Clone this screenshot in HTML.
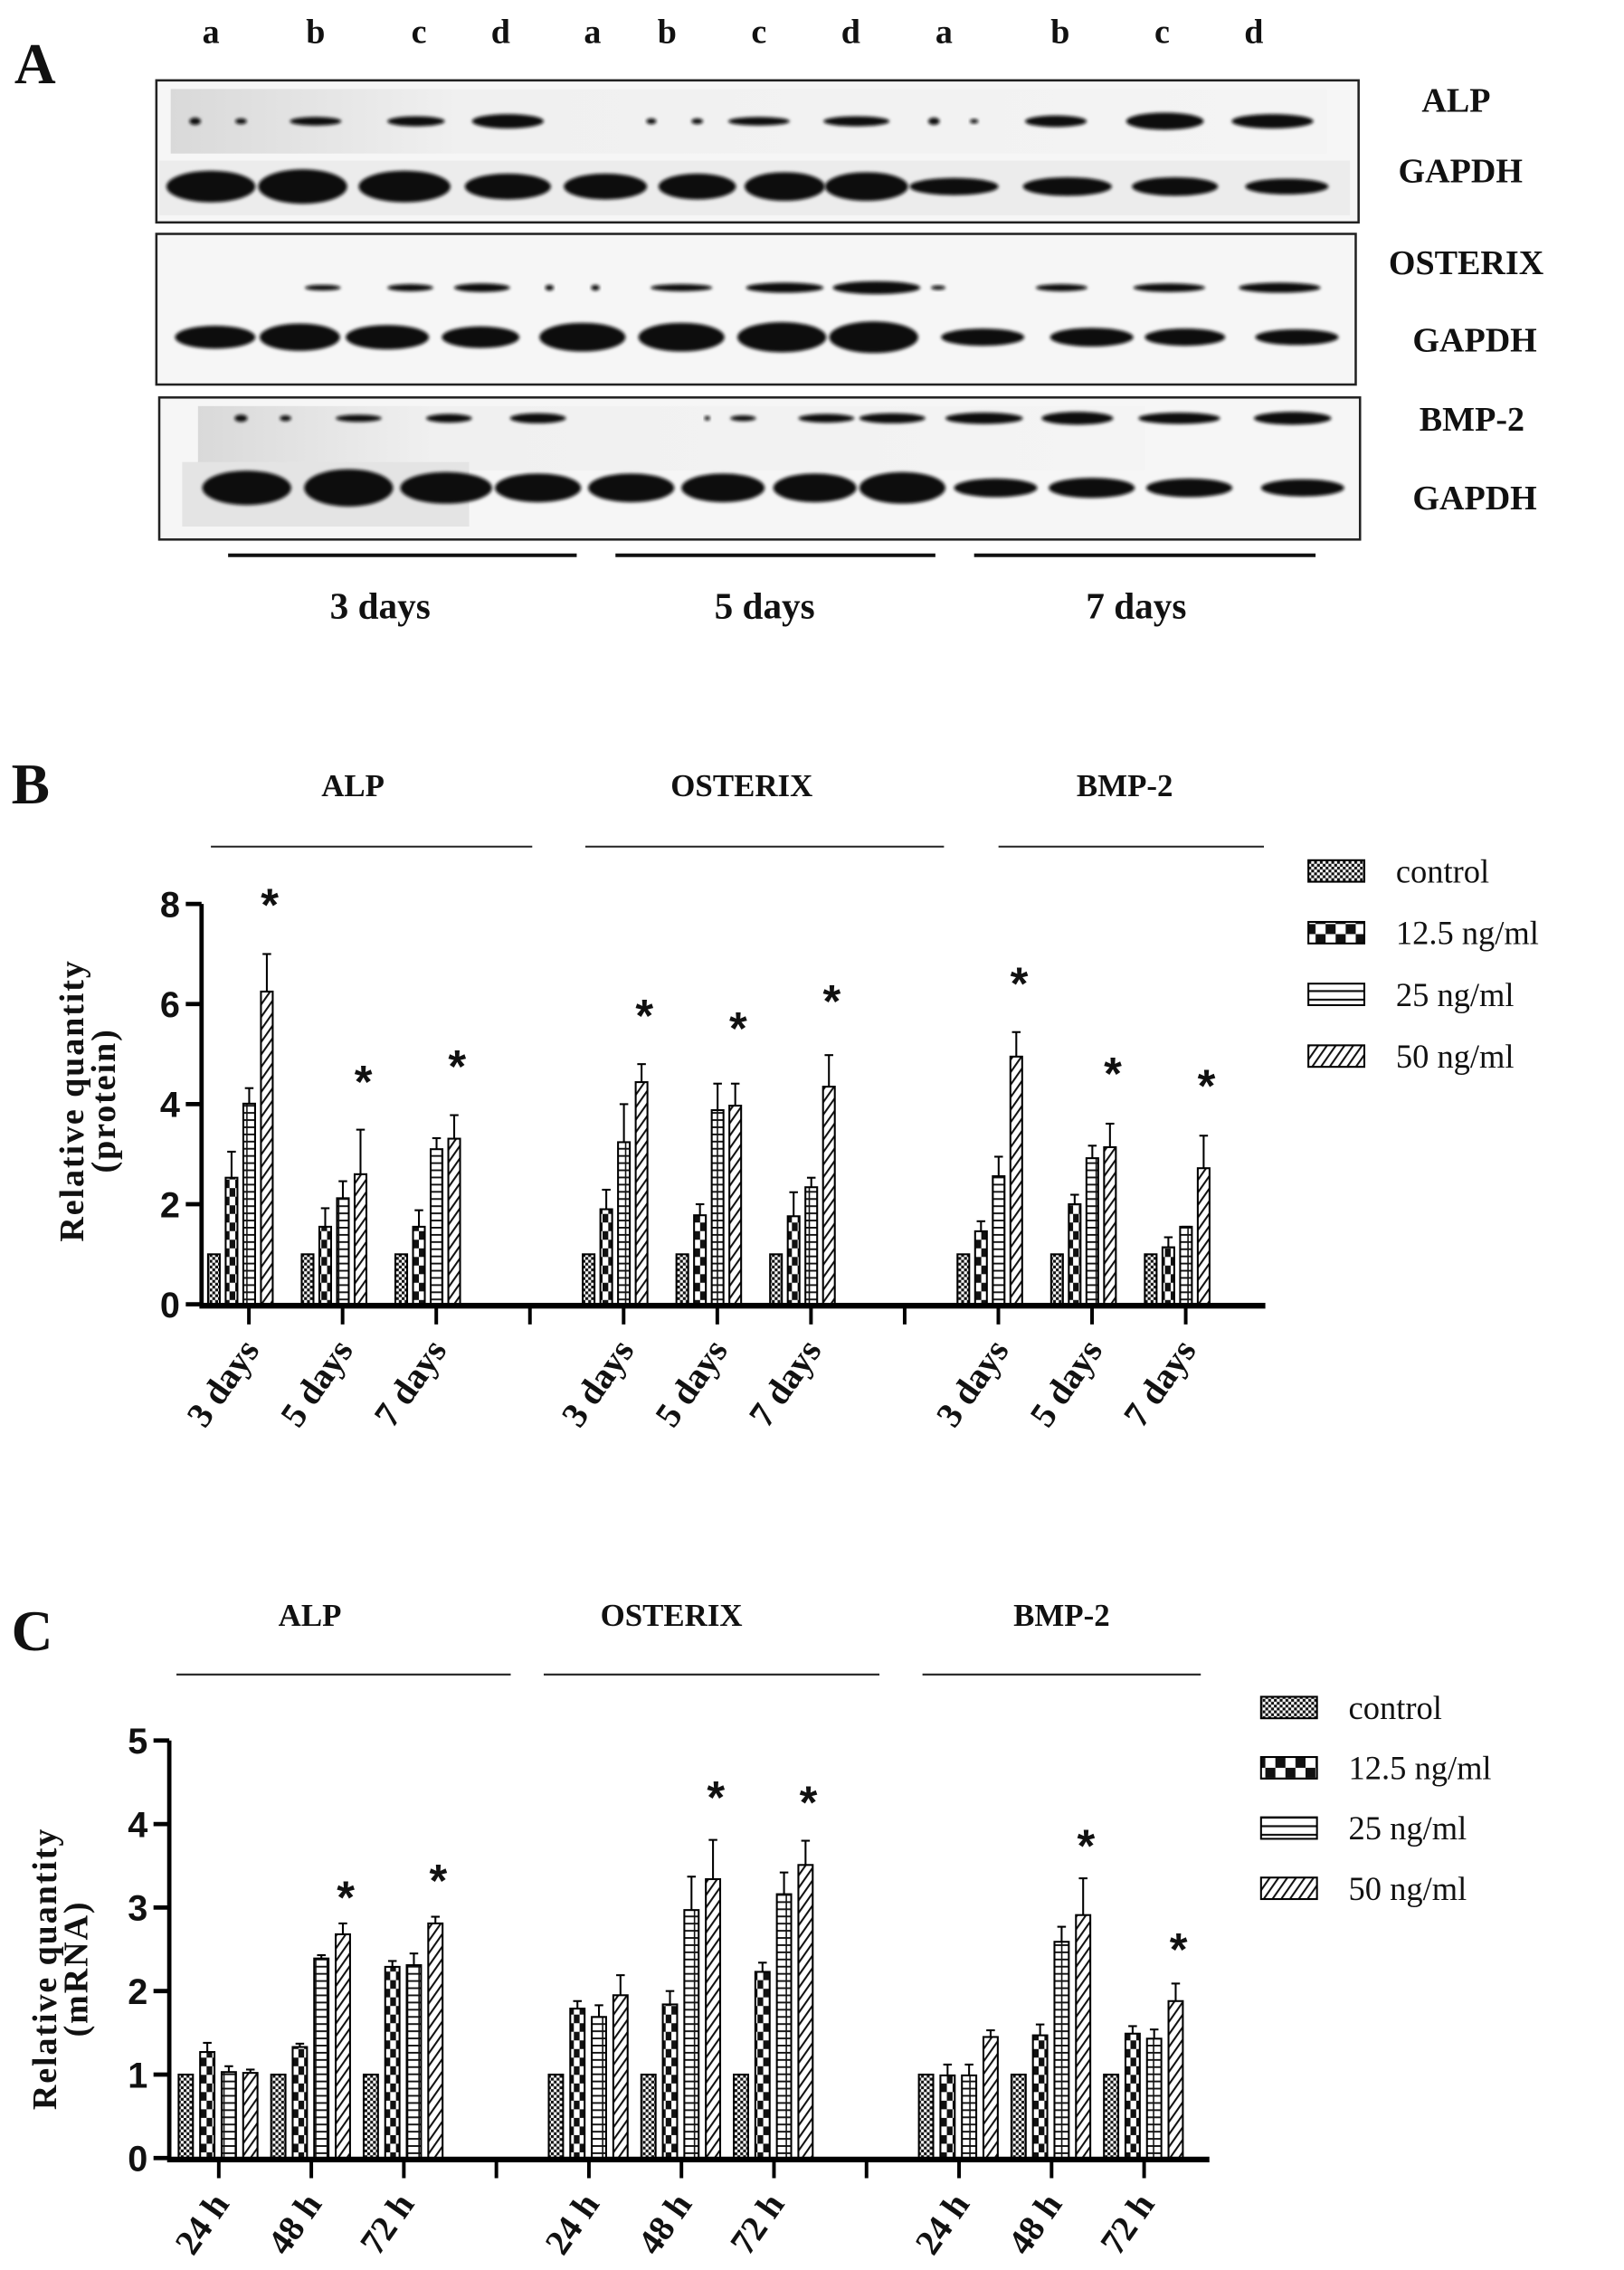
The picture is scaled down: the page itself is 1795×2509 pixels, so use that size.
<!DOCTYPE html>
<html><head><meta charset="utf-8"><title>Western blot and relative quantity charts</title>
<style>
html,body{margin:0;padding:0;background:#fff;}
svg{display:block;}
.serif{font-family:"Liberation Serif",serif;font-weight:bold;fill:#111;}
.sans{font-family:"Liberation Sans",sans-serif;font-weight:bold;fill:#111;}
</style></head>
<body>
<svg id="fig" width="1795" height="2509" viewBox="0 0 1132 1582" preserveAspectRatio="none" xmlns="http://www.w3.org/2000/svg">
<defs>
<filter id="blur" x="-20%" y="-50%" width="140%" height="200%"><feGaussianBlur stdDeviation="1.1"/></filter>
<pattern id="p-control" patternUnits="userSpaceOnUse" width="4" height="4"><rect width="4" height="4" fill="#fff"/><rect width="2" height="2" fill="#111"/><rect x="2" y="2" width="2" height="2" fill="#111"/></pattern>
<pattern id="p-125" patternUnits="userSpaceOnUse" width="8" height="12"><rect width="8" height="12" fill="#fff"/><rect x="0" y="0" width="4" height="6" fill="#111"/><rect x="4" y="6" width="4" height="6" fill="#111"/></pattern>
<pattern id="p-25" patternUnits="userSpaceOnUse" width="8" height="5"><rect width="8" height="5" fill="#fff"/><rect x="0" y="0" width="8" height="1.2" fill="#111"/><rect x="3.6" y="0" width="1" height="5" fill="#111"/></pattern>
<pattern id="p-50" patternUnits="userSpaceOnUse" width="5" height="5" patternTransform="rotate(35)"><rect width="5" height="5" fill="#fff"/><rect x="0" y="0" width="1.3" height="5" fill="#111"/></pattern>
<pattern id="p-125-leg" patternUnits="userSpaceOnUse" width="14" height="14"><rect width="14" height="14" fill="#fff"/><rect width="7" height="7" fill="#111"/><rect x="7" y="7" width="7" height="7" fill="#111"/></pattern>
<pattern id="p-25-leg" patternUnits="userSpaceOnUse" width="10" height="6"><rect width="10" height="6" fill="#fff"/><rect width="10" height="1.4" fill="#111"/></pattern>
<linearGradient id="gelgrad" x1="0" y1="0" x2="1" y2="0"><stop offset="0" stop-color="#d9d9d9"/><stop offset="0.25" stop-color="#f0f0f0"/><stop offset="1" stop-color="#f4f4f4"/></linearGradient>
</defs>
<g id="panelA"></g>
<g id="panelB"></g>
<g id="panelC"></g>
</svg>
<script>
// ---------- Panel B data (protein) ----------
const bGenes = ["ALP", "OSTERIX", "BMP-2"];
const bTimes = ["3 days", "5 days", "7 days"];
const bYTicks = [0, 2, 4, 6, 8];
const bControl = [1, 1, 1, 1, 1, 1, 1, 1, 1];
const b125 = [2.53, 1.55, 1.55, 1.9, 1.78, 1.76, 1.46, 2.0, 1.14];
const b25 = [4.01, 2.12, 3.1, 3.24, 3.88, 2.34, 2.56, 2.92, 1.55];
const b50 = [6.25, 2.6, 3.31, 4.44, 3.97, 4.35, 4.95, 3.14, 2.72];
const b125Err = [3.05, 1.92, 1.88, 2.29, 2.0, 2.24, 1.66, 2.19, 1.34];
const b25Err = [4.32, 2.46, 3.32, 4.0, 4.41, 2.53, 2.95, 3.17, 1.55];
const b50Err = [7.0, 3.49, 3.78, 4.8, 4.41, 4.98, 5.44, 3.61, 3.37];
const bStars = [8.1, 4.56, 4.87, 5.88, 5.63, 6.17, 6.53, 4.73, 4.48];

// ---------- Panel C data (mRNA) ----------
const cGenes = ["ALP", "OSTERIX", "BMP-2"];
const cTimes = ["24 h", "48 h", "72 h"];
const cYTicks = [0, 1, 2, 3, 4, 5];
const cControl = [1, 1, 1, 1, 1, 1, 1, 1, 1];
const c125 = [1.27, 1.33, 2.29, 1.79, 1.84, 2.23, 0.99, 1.47, 1.49];
const c25 = [1.03, 2.39, 2.31, 1.69, 2.97, 3.16, 0.99, 2.59, 1.43];
const c50 = [1.02, 2.68, 2.81, 1.95, 3.34, 3.51, 1.45, 2.91, 1.88];
const c125Err = [1.38, 1.37, 2.36, 1.88, 2.0, 2.34, 1.12, 1.6, 1.58];
const c25Err = [1.1, 2.43, 2.45, 1.83, 3.37, 3.42, 1.12, 2.77, 1.54];
const c50Err = [1.06, 2.81, 2.89, 2.19, 3.81, 3.8, 1.53, 3.35, 2.09];
const cStars = [null, 3.19, 3.39, null, 4.39, 4.33, null, 3.81, 2.57];

const seriesNames = ["control", "12.5 ng/ml", "25 ng/ml", "50 ng/ml"];
const NS = "http://www.w3.org/2000/svg";
function mk(tag, attrs, parent) {
  const el = document.createElementNS(NS, tag);
  for (const k in attrs) el.setAttribute(k, attrs[k]);
  if (parent) parent.appendChild(el);
  return el;
}
function txt(parent, x, y, s, cls, size, anchor) {
  const t = mk("text", {x: x, y: y, class: cls, "font-size": size, "text-anchor": anchor || "middle"}, parent);
  t.textContent = s;
  return t;
}

// ---------- Panel A: blots ----------
(function () {
  const g = document.getElementById("panelA");
  const tA = txt(g, 10, 58, "A", "serif", 40, "start");
  
  
  const lanes = ["a","b","c","d","a","b","c","d","a","b","c","d"];
  const laneX = [147,220,292,349,413,465,529,593,658,739,810,874];
  lanes.forEach((l, i) => {
    const t = txt(g, laneX[i], 30, l, "serif", 24);
    
    
  });
  const boxes = [[109,56,838,99],[109,163,836,105],[111,277,837,99]];
  boxes.forEach((b, i) => {
    const r = mk("rect", {x: b[0], y: b[1], width: b[2], height: b[3], fill: "#f6f6f6", stroke: "#222", "stroke-width": 1.6}, g);
    
    
  });
  mk("rect", {x: 119, y: 62, width: 806, height: 45, fill: "url(#gelgrad)"}, g);
  mk("rect", {x: 111, y: 112, width: 830, height: 38, fill: "#ececec"}, g);
  mk("rect", {x: 138, y: 283, width: 660, height: 45, fill: "url(#gelgrad)"}, g);
  mk("rect", {x: 127, y: 322, width: 200, height: 45, fill: "#e4e4e4"}, g);
  const rows = [
    {y: 84.5, bands: [[136,8,5],[168,8,4],[220,36,6],[290,40,7],[354,50,10],[454,7,4],[486,8,4],[529,43,6],[597,46,7],[651,8,5],[679,6,3],[736,43,8],[812,54,12],[887,57,10]]},
    {y: 130, bands: [[147,62,22],[211,62,24],[282,64,22],[354,60,18],[422,58,18],[486,54,18],[547,56,20],[604,58,20],[665,62,12],[744,62,13],[819,60,13],[897,58,11]]},
    {y: 200.5, bands: [[225,25,4],[286,32,5],[336,39,6],[383,6,4],[415,6,4],[475,43,5],[547,54,7],[611,61,9],[654,10,3],[740,36,5],[815,50,6],[892,57,7]]},
    {y: 235, bands: [[150,56,16],[209,56,19],[270,58,17],[335,54,15],[406,60,20],[475,60,20],[545,62,21],[609,62,22],[685,58,12],[761,58,13],[826,56,12],[904,58,11]]},
    {y: 291.5, bands: [[168,9,5],[199,8,4],[250,32,5],[313,32,6],[375,39,7],[493,4,3],[518,18,4],[576,39,6],[622,46,7],[686,54,8],[751,50,9],[822,57,8],[901,54,9]]},
    {y: 340, bands: [[172,62,24],[243,62,26],[311,64,22],[375,60,20],[440,60,20],[504,58,20],[568,58,20],[629,60,22],[694,58,13],[761,60,14],[829,60,13],[908,58,12]]}
  ];
  rows.forEach(row => {
    row.bands.forEach(b => {
      const e = mk("ellipse", {cx: b[0], cy: row.y, rx: b[1] / 2, ry: b[2] / 2, fill: "#0a0a0a", filter: "url(#blur)"}, g);
      
      
    });
  });
  const labels = [["ALP",1015,78],["GAPDH",1018,127],["OSTERIX",1022,191],["GAPDH",1028,245],["BMP-2",1026,300],["GAPDH",1028,355]];
  labels.forEach(l => {
    const t = txt(g, l[1], l[2], l[0], "serif", 24);
    
    
  });
  const lines = [[159,402],[429,652],[679,917]];
  const days = [["3 days",265],["5 days",533],["7 days",792]];
  lines.forEach((ln, i) => {
    const l = mk("line", {x1: ln[0], x2: ln[1], y1: 387, y2: 387, stroke: "#111", "stroke-width": 2.5}, g);
    
    
    const t = txt(g, days[i][1], 431, days[i][0], "serif", 26);
    
    
  });
})();

// ---------- bar chart builder ----------
function buildChart(cfg) {
  const g = document.getElementById(cfg.id);
  const yScale = v => cfg.y0 - (v / cfg.yMax) * (cfg.y0 - cfg.yTop);
  const tickX = i => cfg.tick0 + cfg.tickStep * i;
  const pl = txt(g, cfg.letterX, cfg.letterY, cfg.letter, "serif", 40, "start");
  
  
  cfg.genes.forEach((gn, k) => {
    const t = txt(g, cfg.titleX[k], cfg.titleY, gn, "serif", 22);
    
    
    const l = mk("line", {x1: cfg.lineX[k][0], x2: cfg.lineX[k][1], y1: cfg.lineY, y2: cfg.lineY, stroke: "#222", "stroke-width": 1.3}, g);
    
    
  });
  const ya = mk("line", {x1: cfg.axisX, x2: cfg.axisX, y1: yScale(cfg.yMax), y2: cfg.y0 + 1, stroke: "#000", "stroke-width": 3}, g);
  
  
  cfg.yTicks.forEach(v => {
    const tl = mk("line", {x1: cfg.axisX - 11, x2: cfg.axisX, y1: yScale(v), y2: yScale(v), stroke: "#000", "stroke-width": 3}, g);
    
    
    const t = txt(g, cfg.axisX - 22, yScale(v) + 9, String(v), "sans", 25);
    
    
  });
  const yt = mk("text", {x: 0, y: 0, class: "serif", "font-size": 24, "letter-spacing": 1.2, "text-anchor": "middle", transform: "translate(" + cfg.yLabelX + "," + cfg.yLabelY + ") rotate(-90)"}, g);
  
  
  const ts1 = mk("tspan", {x: 0, dy: 0}, yt); ts1.textContent = "Relative quantity";
  const ts2 = mk("tspan", {x: 0, dy: 22}, yt); ts2.textContent = cfg.yUnit;
  const series = [cfg.control, cfg.s125, cfg.s25, cfg.s50];
  const errs = [null, cfg.e125, cfg.e25, cfg.e50];
  const fills = ["url(#p-control)", "url(#p-125)", "url(#p-25)", "url(#p-50)"];
  for (let gi = 0; gi < 3; gi++) {
    for (let ti = 0; ti < 3; ti++) {
      const idx = gi * 3 + ti;
      const tx = tickX(gi * 4 + ti);
      series.forEach((s, si) => {
        const x = tx + cfg.barOff + si * cfg.barStride;
        const yTopBar = yScale(s[idx]);
        if (errs[si]) {
          const ye = yScale(errs[si][idx]);
          const el = mk("line", {x1: x + cfg.barW / 2, x2: x + cfg.barW / 2, y1: ye, y2: yTopBar, stroke: "#000", "stroke-width": 1.3}, g);
          
          
          const cap = mk("line", {x1: x + cfg.barW / 2 - 3, x2: x + cfg.barW / 2 + 3, y1: ye, y2: ye, stroke: "#000", "stroke-width": 1.3}, g);
          
          
        }
        const r = mk("rect", {x: x, y: yTopBar, width: cfg.barW, height: cfg.y0 - yTopBar, fill: fills[si], stroke: "#000", "stroke-width": 1.3}, g);
        
        
      });
      if (cfg.stars[idx] !== null) {
        const sx = tx + cfg.barOff + 3 * cfg.barStride + cfg.barW / 2 + 2;
        const st = txt(g, sx, yScale(cfg.stars[idx]) + 15, "*", "sans", 32);
        
        
      }
      const lab = mk("text", {x: 0, y: 0, class: "serif", "font-size": 25, "text-anchor": "end", transform: "translate(" + (tx + 8) + "," + (cfg.y0 + 32) + ") rotate(-55)"}, g);
      lab.textContent = cfg.times[ti];
      
      
    }
  }
  const xa = mk("line", {x1: cfg.axisX - 1.5, x2: cfg.axisEnd, y1: cfg.y0 + 1, y2: cfg.y0 + 1, stroke: "#000", "stroke-width": 4}, g);
  
  
  for (let i = 0; i < 11; i++) {
    const tk = mk("line", {x1: tickX(i), x2: tickX(i), y1: cfg.y0, y2: cfg.y0 + 14, stroke: "#000", "stroke-width": 2.5}, g);
    
    
  }
  const legFills = ["url(#p-control)", "url(#p-125-leg)", "url(#p-25-leg)", "url(#p-50)"];
  seriesNames.forEach((n, i) => {
    const yy = cfg.legY[i];
    const lg = mk("g", {}, g);
    
    
    mk("rect", {x: cfg.legX, y: yy - 7.5, width: 39, height: 15, fill: legFills[i], stroke: "#000", "stroke-width": 1.3}, lg);
    const t = mk("text", {x: cfg.legX + 61, y: yy + 8, "font-family": "Liberation Serif, serif", "font-size": 23, fill: "#111"}, lg);
    t.textContent = n;
  });
}

buildChart({
  id: "panelB", letter: "B", letterX: 8, letterY: 560, genes: bGenes, times: bTimes,
  titleX: [246, 517, 784], titleY: 555, lineY: 590, lineX: [[147,371],[408,658],[696,881]],
  axisX: 140.5, axisEnd: 882, y0: 909, yTop: 630, yMax: 8, yTicks: bYTicks,
  tick0: 173.5, tickStep: 65.3, barOff: -28.5, barStride: 12.3, barW: 8.2,
  control: bControl, s125: b125, s25: b25, s50: b50, e125: b125Err, e25: b25Err, e50: b50Err, stars: bStars,
  yLabelX: 58, yLabelY: 767, yUnit: "(protein)",
  legX: 912, legY: [607, 650, 693, 736]
});
buildChart({
  id: "panelC", letter: "C", letterX: 8, letterY: 1150, genes: cGenes, times: cTimes,
  titleX: [216, 468, 740], titleY: 1133, lineY: 1167, lineX: [[123,356],[379,613],[643,837]],
  axisX: 118, axisEnd: 843, y0: 1504, yTop: 1213, yMax: 5, yTicks: cYTicks,
  tick0: 152.5, tickStep: 64.5, barOff: -28, barStride: 15, barW: 10,
  control: cControl, s125: c125, s25: c25, s50: c50, e125: c125Err, e25: c25Err, e50: c50Err, stars: cStars,
  yLabelX: 39, yLabelY: 1372, yUnit: "(mRNA)",
  legX: 879, legY: [1190, 1232, 1274, 1316]
});
</script>
</body></html>
